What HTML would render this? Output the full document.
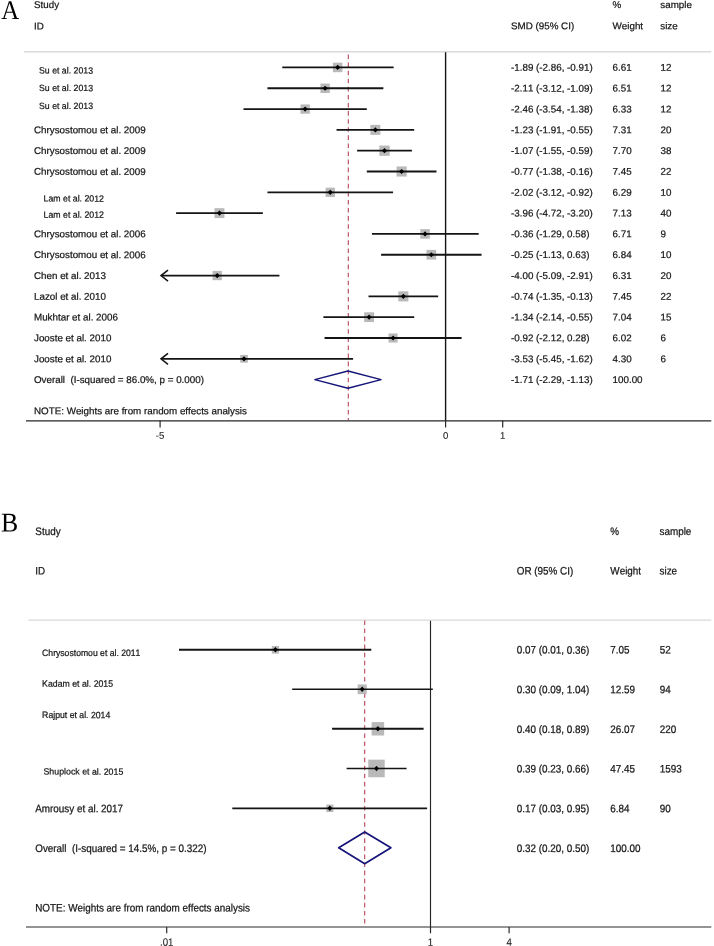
<!DOCTYPE html><html><head><meta charset="utf-8"><title>Forest plots</title>
<style>html,body{margin:0;padding:0;background:#fff}svg{display:block;will-change:transform;transform:translateZ(0)}text{font-family:"Liberation Sans",sans-serif;stroke:#151515;stroke-width:0.22px;font-kerning:none;font-feature-settings:"kern" 0,"liga" 0}text.sf{font-family:"Liberation Serif",serif;stroke:none}</style></head><body>
<svg width="714" height="946" viewBox="0 0 714 946">
<rect width="714" height="946" fill="#fff"/>
<text transform="translate(1.30,18.90) rotate(0.03)" font-size="27" fill="#000" class="sf" textLength="18.0" lengthAdjust="spacingAndGlyphs"  xml:space="preserve">A</text>
<text transform="translate(34.00,8.07) rotate(0.03)" font-size="9.8" fill="#151515"  xml:space="preserve">Study</text>
<text transform="translate(34.00,29.48) rotate(0.03)" font-size="9.8" fill="#151515"  xml:space="preserve">ID</text>
<text transform="translate(511.00,29.18) rotate(0.03)" font-size="9.8" fill="#151515"  xml:space="preserve">SMD (95% CI)</text>
<text transform="translate(612.60,8.07) rotate(0.03)" font-size="9.8" fill="#151515"  xml:space="preserve">%</text>
<text transform="translate(612.60,29.18) rotate(0.03)" font-size="9.8" fill="#151515"  xml:space="preserve">Weight</text>
<text transform="translate(660.30,8.07) rotate(0.03)" font-size="9.8" fill="#151515"  xml:space="preserve">sample</text>
<text transform="translate(660.30,29.18) rotate(0.03)" font-size="9.8" fill="#151515"  xml:space="preserve">size</text>
<line x1="24.00" y1="51.80" x2="711.30" y2="51.80" stroke="#d9d9d9" stroke-width="1.4"/>
<line x1="348.30" y1="54.50" x2="348.30" y2="420.50" stroke="#b4465a" stroke-width="1.1" stroke-dasharray="4.6 3.48" stroke-dashoffset="0"/>
<line x1="445.60" y1="52.30" x2="445.60" y2="420.80" stroke="#141414" stroke-width="1.4"/>
<rect x="332.92" y="62.69" width="9.51" height="9.51" fill="#b9b9b9"/>
<line x1="282.29" y1="67.45" x2="393.64" y2="67.45" stroke="#141414" stroke-width="1.8"/>
<path d="M335.08,67.45 L337.68,64.85 L340.28,67.45 L337.68,70.05 Z" fill="#000"/>
<text transform="translate(39.00,73.60) rotate(0.03)" font-size="9.1" fill="#151515" textLength="54" lengthAdjust="spacingAndGlyphs"  xml:space="preserve">Su et al. 2013</text>
<text transform="translate(511.00,70.80) rotate(0.03)" font-size="9.8" fill="#151515"  xml:space="preserve">-1.89 (-2.86, -0.91)</text>
<text transform="translate(612.60,70.80) rotate(0.03)" font-size="9.8" fill="#151515"  xml:space="preserve">6.61</text>
<text transform="translate(660.60,70.80) rotate(0.03)" font-size="9.8" fill="#151515"  xml:space="preserve">12</text>
<rect x="320.40" y="83.54" width="9.44" height="9.44" fill="#b9b9b9"/>
<line x1="267.45" y1="88.26" x2="383.36" y2="88.26" stroke="#141414" stroke-width="1.8"/>
<path d="M322.52,88.26 L325.12,85.66 L327.72,88.26 L325.12,90.86 Z" fill="#000"/>
<text transform="translate(39.00,91.10) rotate(0.03)" font-size="9.1" fill="#151515" textLength="54" lengthAdjust="spacingAndGlyphs"  xml:space="preserve">Su et al. 2013</text>
<text transform="translate(511.00,91.61) rotate(0.03)" font-size="9.8" fill="#151515"  xml:space="preserve">-2.11 (-3.12, -1.09)</text>
<text transform="translate(612.60,91.61) rotate(0.03)" font-size="9.8" fill="#151515"  xml:space="preserve">6.51</text>
<text transform="translate(660.60,91.61) rotate(0.03)" font-size="9.8" fill="#151515"  xml:space="preserve">12</text>
<rect x="300.48" y="104.42" width="9.31" height="9.31" fill="#b9b9b9"/>
<line x1="243.47" y1="109.07" x2="366.80" y2="109.07" stroke="#141414" stroke-width="1.8"/>
<path d="M302.53,109.07 L305.13,106.47 L307.73,109.07 L305.13,111.67 Z" fill="#000"/>
<text transform="translate(39.00,108.90) rotate(0.03)" font-size="9.1" fill="#151515" textLength="54" lengthAdjust="spacingAndGlyphs"  xml:space="preserve">Su et al. 2013</text>
<text transform="translate(511.00,112.42) rotate(0.03)" font-size="9.8" fill="#151515"  xml:space="preserve">-2.46 (-3.54, -1.38)</text>
<text transform="translate(612.60,112.42) rotate(0.03)" font-size="9.8" fill="#151515"  xml:space="preserve">6.33</text>
<text transform="translate(660.60,112.42) rotate(0.03)" font-size="9.8" fill="#151515"  xml:space="preserve">12</text>
<rect x="370.37" y="124.88" width="10.00" height="10.00" fill="#b9b9b9"/>
<line x1="336.54" y1="129.88" x2="414.19" y2="129.88" stroke="#141414" stroke-width="1.8"/>
<path d="M372.77,129.88 L375.37,127.28 L377.97,129.88 L375.37,132.48 Z" fill="#000"/>
<text transform="translate(34.00,133.23) rotate(0.03)" font-size="9.8" fill="#151515"  xml:space="preserve">Chrysostomou et al. 2009</text>
<text transform="translate(511.00,133.23) rotate(0.03)" font-size="9.8" fill="#151515"  xml:space="preserve">-1.23 (-1.91, -0.55)</text>
<text transform="translate(612.60,133.23) rotate(0.03)" font-size="9.8" fill="#151515"  xml:space="preserve">7.31</text>
<text transform="translate(660.60,133.23) rotate(0.03)" font-size="9.8" fill="#151515"  xml:space="preserve">20</text>
<rect x="379.37" y="145.56" width="10.27" height="10.27" fill="#b9b9b9"/>
<line x1="357.10" y1="150.69" x2="411.91" y2="150.69" stroke="#141414" stroke-width="1.8"/>
<path d="M381.90,150.69 L384.50,148.09 L387.10,150.69 L384.50,153.29 Z" fill="#000"/>
<text transform="translate(34.00,154.04) rotate(0.03)" font-size="9.8" fill="#151515"  xml:space="preserve">Chrysostomou et al. 2009</text>
<text transform="translate(511.00,154.04) rotate(0.03)" font-size="9.8" fill="#151515"  xml:space="preserve">-1.07 (-1.55, -0.59)</text>
<text transform="translate(612.60,154.04) rotate(0.03)" font-size="9.8" fill="#151515"  xml:space="preserve">7.70</text>
<text transform="translate(660.60,154.04) rotate(0.03)" font-size="9.8" fill="#151515"  xml:space="preserve">38</text>
<rect x="396.58" y="166.45" width="10.10" height="10.10" fill="#b9b9b9"/>
<line x1="366.80" y1="171.50" x2="436.46" y2="171.50" stroke="#141414" stroke-width="1.8"/>
<path d="M399.03,171.50 L401.63,168.90 L404.23,171.50 L401.63,174.10 Z" fill="#000"/>
<text transform="translate(34.00,174.85) rotate(0.03)" font-size="9.8" fill="#151515"  xml:space="preserve">Chrysostomou et al. 2009</text>
<text transform="translate(511.00,174.85) rotate(0.03)" font-size="9.8" fill="#151515"  xml:space="preserve">-0.77 (-1.38, -0.16)</text>
<text transform="translate(612.60,174.85) rotate(0.03)" font-size="9.8" fill="#151515"  xml:space="preserve">7.45</text>
<text transform="translate(660.60,174.85) rotate(0.03)" font-size="9.8" fill="#151515"  xml:space="preserve">22</text>
<rect x="325.62" y="187.67" width="9.28" height="9.28" fill="#b9b9b9"/>
<line x1="267.45" y1="192.31" x2="393.07" y2="192.31" stroke="#141414" stroke-width="1.8"/>
<path d="M327.66,192.31 L330.26,189.71 L332.86,192.31 L330.26,194.91 Z" fill="#000"/>
<text transform="translate(43.50,201.60) rotate(0.03)" font-size="9.1" fill="#151515" textLength="60.5" lengthAdjust="spacingAndGlyphs"  xml:space="preserve">Lam et al. 2012</text>
<text transform="translate(511.00,195.66) rotate(0.03)" font-size="9.8" fill="#151515"  xml:space="preserve">-2.02 (-3.12, -0.92)</text>
<text transform="translate(612.60,195.66) rotate(0.03)" font-size="9.8" fill="#151515"  xml:space="preserve">6.29</text>
<text transform="translate(660.60,195.66) rotate(0.03)" font-size="9.8" fill="#151515"  xml:space="preserve">10</text>
<rect x="214.54" y="208.18" width="9.88" height="9.88" fill="#b9b9b9"/>
<line x1="176.09" y1="213.12" x2="262.88" y2="213.12" stroke="#141414" stroke-width="1.8"/>
<path d="M216.88,213.12 L219.48,210.52 L222.08,213.12 L219.48,215.72 Z" fill="#000"/>
<text transform="translate(43.50,217.80) rotate(0.03)" font-size="9.1" fill="#151515" textLength="60.5" lengthAdjust="spacingAndGlyphs"  xml:space="preserve">Lam et al. 2012</text>
<text transform="translate(511.00,216.47) rotate(0.03)" font-size="9.8" fill="#151515"  xml:space="preserve">-3.96 (-4.72, -3.20)</text>
<text transform="translate(612.60,216.47) rotate(0.03)" font-size="9.8" fill="#151515"  xml:space="preserve">7.13</text>
<text transform="translate(660.60,216.47) rotate(0.03)" font-size="9.8" fill="#151515"  xml:space="preserve">40</text>
<rect x="420.25" y="229.14" width="9.58" height="9.58" fill="#b9b9b9"/>
<line x1="371.94" y1="233.93" x2="478.72" y2="233.93" stroke="#141414" stroke-width="1.8"/>
<path d="M422.44,233.93 L425.04,231.33 L427.64,233.93 L425.04,236.53 Z" fill="#000"/>
<text transform="translate(34.00,237.28) rotate(0.03)" font-size="9.8" fill="#151515"  xml:space="preserve">Chrysostomou et al. 2006</text>
<text transform="translate(511.00,237.28) rotate(0.03)" font-size="9.8" fill="#151515"  xml:space="preserve">-0.36 (-1.29, 0.58)</text>
<text transform="translate(612.60,237.28) rotate(0.03)" font-size="9.8" fill="#151515"  xml:space="preserve">6.71</text>
<text transform="translate(660.60,237.28) rotate(0.03)" font-size="9.8" fill="#151515"  xml:space="preserve">9</text>
<rect x="426.49" y="249.90" width="9.68" height="9.68" fill="#b9b9b9"/>
<line x1="381.08" y1="254.74" x2="481.57" y2="254.74" stroke="#141414" stroke-width="1.8"/>
<path d="M428.73,254.74 L431.33,252.14 L433.93,254.74 L431.33,257.34 Z" fill="#000"/>
<text transform="translate(34.00,258.09) rotate(0.03)" font-size="9.8" fill="#151515"  xml:space="preserve">Chrysostomou et al. 2006</text>
<text transform="translate(511.00,258.09) rotate(0.03)" font-size="9.8" fill="#151515"  xml:space="preserve">-0.25 (-1.13, 0.63)</text>
<text transform="translate(612.60,258.09) rotate(0.03)" font-size="9.8" fill="#151515"  xml:space="preserve">6.84</text>
<text transform="translate(660.60,258.09) rotate(0.03)" font-size="9.8" fill="#151515"  xml:space="preserve">10</text>
<rect x="212.55" y="270.90" width="9.29" height="9.29" fill="#b9b9b9"/>
<line x1="161.30" y1="275.55" x2="279.44" y2="275.55" stroke="#141414" stroke-width="1.8"/>
<path d="M168.00,270.05 L161.00,275.55 L168.00,281.05" fill="none" stroke="#141414" stroke-width="1.55" stroke-linejoin="miter"/>
<path d="M214.60,275.55 L217.20,272.95 L219.80,275.55 L217.20,278.15 Z" fill="#000"/>
<text transform="translate(34.00,278.90) rotate(0.03)" font-size="9.8" fill="#151515"  xml:space="preserve">Chen et al. 2013</text>
<text transform="translate(511.00,278.90) rotate(0.03)" font-size="9.8" fill="#151515"  xml:space="preserve">-4.00 (-5.09, -2.91)</text>
<text transform="translate(612.60,278.90) rotate(0.03)" font-size="9.8" fill="#151515"  xml:space="preserve">6.31</text>
<text transform="translate(660.60,278.90) rotate(0.03)" font-size="9.8" fill="#151515"  xml:space="preserve">20</text>
<rect x="398.30" y="291.31" width="10.10" height="10.10" fill="#b9b9b9"/>
<line x1="368.51" y1="296.36" x2="438.18" y2="296.36" stroke="#141414" stroke-width="1.8"/>
<path d="M400.75,296.36 L403.35,293.76 L405.95,296.36 L403.35,298.96 Z" fill="#000"/>
<text transform="translate(34.00,299.71) rotate(0.03)" font-size="9.8" fill="#151515"  xml:space="preserve">Lazol et al. 2010</text>
<text transform="translate(511.00,299.71) rotate(0.03)" font-size="9.8" fill="#151515"  xml:space="preserve">-0.74 (-1.35, -0.13)</text>
<text transform="translate(612.60,299.71) rotate(0.03)" font-size="9.8" fill="#151515"  xml:space="preserve">7.45</text>
<text transform="translate(660.60,299.71) rotate(0.03)" font-size="9.8" fill="#151515"  xml:space="preserve">22</text>
<rect x="364.18" y="312.26" width="9.82" height="9.82" fill="#b9b9b9"/>
<line x1="323.41" y1="317.17" x2="414.19" y2="317.17" stroke="#141414" stroke-width="1.8"/>
<path d="M366.49,317.17 L369.09,314.57 L371.69,317.17 L369.09,319.77 Z" fill="#000"/>
<text transform="translate(34.00,320.52) rotate(0.03)" font-size="9.8" fill="#151515"  xml:space="preserve">Mukhtar et al. 2006</text>
<text transform="translate(511.00,320.52) rotate(0.03)" font-size="9.8" fill="#151515"  xml:space="preserve">-1.34 (-2.14, -0.55)</text>
<text transform="translate(612.60,320.52) rotate(0.03)" font-size="9.8" fill="#151515"  xml:space="preserve">7.04</text>
<text transform="translate(660.60,320.52) rotate(0.03)" font-size="9.8" fill="#151515"  xml:space="preserve">15</text>
<rect x="388.53" y="333.44" width="9.08" height="9.08" fill="#b9b9b9"/>
<line x1="324.55" y1="337.98" x2="461.59" y2="337.98" stroke="#141414" stroke-width="1.8"/>
<path d="M390.47,337.98 L393.07,335.38 L395.67,337.98 L393.07,340.58 Z" fill="#000"/>
<text transform="translate(34.00,341.33) rotate(0.03)" font-size="9.8" fill="#151515"  xml:space="preserve">Jooste et al. 2010</text>
<text transform="translate(511.00,341.33) rotate(0.03)" font-size="9.8" fill="#151515"  xml:space="preserve">-0.92 (-2.12, 0.28)</text>
<text transform="translate(612.60,341.33) rotate(0.03)" font-size="9.8" fill="#151515"  xml:space="preserve">6.02</text>
<text transform="translate(660.60,341.33) rotate(0.03)" font-size="9.8" fill="#151515"  xml:space="preserve">6</text>
<rect x="240.20" y="354.95" width="7.67" height="7.67" fill="#b9b9b9"/>
<line x1="161.30" y1="358.79" x2="353.10" y2="358.79" stroke="#141414" stroke-width="1.8"/>
<path d="M168.00,353.29 L161.00,358.79 L168.00,364.29" fill="none" stroke="#141414" stroke-width="1.55" stroke-linejoin="miter"/>
<path d="M241.44,358.79 L244.04,356.19 L246.64,358.79 L244.04,361.39 Z" fill="#000"/>
<text transform="translate(34.00,362.14) rotate(0.03)" font-size="9.8" fill="#151515"  xml:space="preserve">Jooste et al. 2010</text>
<text transform="translate(511.00,362.14) rotate(0.03)" font-size="9.8" fill="#151515"  xml:space="preserve">-3.53 (-5.45, -1.62)</text>
<text transform="translate(612.60,362.14) rotate(0.03)" font-size="9.8" fill="#151515"  xml:space="preserve">4.30</text>
<text transform="translate(660.60,362.14) rotate(0.03)" font-size="9.8" fill="#151515"  xml:space="preserve">6</text>
<path d="M314.84,379.60 L347.96,371.00 L381.08,379.60 L347.96,388.20 Z" fill="none" stroke="#14147a" stroke-width="1.4" stroke-linejoin="round"/>
<text transform="translate(34.00,382.95) rotate(0.03)" font-size="9.8" fill="#151515"  xml:space="preserve">Overall  (I-squared = 86.0%, p = 0.000)</text>
<text transform="translate(511.00,382.95) rotate(0.03)" font-size="9.8" fill="#151515"  xml:space="preserve">-1.71 (-2.29, -1.13)</text>
<text transform="translate(612.60,382.95) rotate(0.03)" font-size="9.8" fill="#151515"  xml:space="preserve">100.00</text>
<text transform="translate(34.00,414.16) rotate(0.03)" font-size="9.8" fill="#151515"  xml:space="preserve">NOTE: Weights are from random effects analysis</text>
<line x1="26.00" y1="420.85" x2="711.30" y2="420.85" stroke="#262626" stroke-width="1.25"/>
<line x1="160.10" y1="420.60" x2="160.10" y2="427.60" stroke="#2a2a2a" stroke-width="1.2"/>
<text transform="translate(160.10,438.7) rotate(0.03)" font-size="9.6" fill="#222" style="stroke-width:0.08px" text-anchor="middle">-5</text>
<line x1="445.60" y1="420.60" x2="445.60" y2="427.60" stroke="#2a2a2a" stroke-width="1.2"/>
<text transform="translate(445.60,438.7) rotate(0.03)" font-size="9.6" fill="#222" style="stroke-width:0.08px" text-anchor="middle">0</text>
<line x1="502.70" y1="420.60" x2="502.70" y2="427.60" stroke="#2a2a2a" stroke-width="1.2"/>
<text transform="translate(502.70,438.7) rotate(0.03)" font-size="9.6" fill="#222" style="stroke-width:0.08px" text-anchor="middle">1</text>
<text transform="translate(1.00,531.50) rotate(0.03)" font-size="27" fill="#000" class="sf" textLength="17.2" lengthAdjust="spacingAndGlyphs"  xml:space="preserve">B</text>
<text transform="translate(35.30,535.10) rotate(0.03) scale(1,1.1)" font-size="9.9" fill="#151515"  xml:space="preserve">Study</text>
<text transform="translate(35.30,574.60) rotate(0.03) scale(1,1.1)" font-size="9.9" fill="#151515"  xml:space="preserve">ID</text>
<text transform="translate(516.70,574.60) rotate(0.03) scale(1,1.1)" font-size="9.9" fill="#151515"  xml:space="preserve">OR (95% CI)</text>
<text transform="translate(610.30,535.10) rotate(0.03) scale(1,1.1)" font-size="9.9" fill="#151515"  xml:space="preserve">%</text>
<text transform="translate(610.30,574.60) rotate(0.03) scale(1,1.1)" font-size="9.9" fill="#151515"  xml:space="preserve">Weight</text>
<text transform="translate(659.50,535.10) rotate(0.03) scale(1,1.1)" font-size="9.9" fill="#151515"  xml:space="preserve">sample</text>
<text transform="translate(659.50,574.60) rotate(0.03) scale(1,1.1)" font-size="9.9" fill="#151515"  xml:space="preserve">size</text>
<line x1="28.40" y1="620.20" x2="711.30" y2="620.20" stroke="#d9d9d9" stroke-width="1.3"/>
<line x1="364.70" y1="620.40" x2="364.70" y2="927.00" stroke="#b4465a" stroke-width="1.1" stroke-dasharray="4.6 3.47" stroke-dashoffset="0"/>
<line x1="430.50" y1="620.80" x2="430.50" y2="927.00" stroke="#262626" stroke-width="1.15"/>
<rect x="271.83" y="645.98" width="7.14" height="7.64" fill="#b9b9b9"/>
<line x1="179.00" y1="649.80" x2="371.30" y2="649.80" stroke="#141414" stroke-width="1.95"/>
<path d="M273.00,649.80 L275.40,647.00 L277.80,649.80 L275.40,652.60 Z" fill="#000"/>
<text transform="translate(42.10,655.70) rotate(0.03)" font-size="9.3" fill="#151515" textLength="98.3" lengthAdjust="spacingAndGlyphs"  xml:space="preserve">Chrysostomou et al. 2011</text>
<text transform="translate(516.70,653.60) rotate(0.03) scale(1,1.1)" font-size="9.9" fill="#151515"  xml:space="preserve">0.07 (0.01, 0.36)</text>
<text transform="translate(610.30,653.60) rotate(0.03) scale(1,1.1)" font-size="9.9" fill="#151515"  xml:space="preserve">7.05</text>
<text transform="translate(659.70,653.60) rotate(0.03) scale(1,1.1)" font-size="9.9" fill="#151515"  xml:space="preserve">52</text>
<rect x="357.65" y="684.43" width="9.11" height="9.74" fill="#b9b9b9"/>
<line x1="292.20" y1="689.30" x2="432.80" y2="689.30" stroke="#141414" stroke-width="1.5"/>
<path d="M359.80,689.30 L362.20,686.50 L364.60,689.30 L362.20,692.10 Z" fill="#000"/>
<text transform="translate(42.10,686.80) rotate(0.03)" font-size="9.3" fill="#151515" textLength="71" lengthAdjust="spacingAndGlyphs"  xml:space="preserve">Kadam et al. 2015</text>
<text transform="translate(516.70,693.26) rotate(0.03) scale(1,1.1)" font-size="9.9" fill="#151515"  xml:space="preserve">0.30 (0.09, 1.04)</text>
<text transform="translate(610.30,693.26) rotate(0.03) scale(1,1.1)" font-size="9.9" fill="#151515"  xml:space="preserve">12.59</text>
<text transform="translate(659.70,693.26) rotate(0.03) scale(1,1.1)" font-size="9.9" fill="#151515"  xml:space="preserve">94</text>
<rect x="371.63" y="722.09" width="12.53" height="13.41" fill="#b9b9b9"/>
<line x1="332.10" y1="728.80" x2="423.60" y2="728.80" stroke="#141414" stroke-width="1.9"/>
<path d="M375.50,728.80 L377.90,726.00 L380.30,728.80 L377.90,731.60 Z" fill="#000"/>
<text transform="translate(42.10,718.10) rotate(0.03)" font-size="9.3" fill="#151515" textLength="68.2" lengthAdjust="spacingAndGlyphs"  xml:space="preserve">Rajput et al. 2014</text>
<text transform="translate(516.70,732.92) rotate(0.03) scale(1,1.1)" font-size="9.9" fill="#151515"  xml:space="preserve">0.40 (0.18, 0.89)</text>
<text transform="translate(610.30,732.92) rotate(0.03) scale(1,1.1)" font-size="9.9" fill="#151515"  xml:space="preserve">26.07</text>
<text transform="translate(659.70,732.92) rotate(0.03) scale(1,1.1)" font-size="9.9" fill="#151515"  xml:space="preserve">220</text>
<rect x="368.27" y="759.65" width="16.45" height="17.61" fill="#b9b9b9"/>
<line x1="346.60" y1="768.45" x2="406.60" y2="768.45" stroke="#141414" stroke-width="1.65"/>
<path d="M374.10,768.45 L376.50,765.65 L378.90,768.45 L376.50,771.25 Z" fill="#000"/>
<text transform="translate(43.50,774.60) rotate(0.03)" font-size="9.0" fill="#151515" textLength="79.8" lengthAdjust="spacingAndGlyphs"  xml:space="preserve">Shuplock et al. 2015</text>
<text transform="translate(516.70,772.58) rotate(0.03) scale(1,1.1)" font-size="9.9" fill="#151515"  xml:space="preserve">0.39 (0.23, 0.66)</text>
<text transform="translate(610.30,772.58) rotate(0.03) scale(1,1.1)" font-size="9.9" fill="#151515"  xml:space="preserve">47.45</text>
<text transform="translate(659.70,772.58) rotate(0.03) scale(1,1.1)" font-size="9.9" fill="#151515"  xml:space="preserve">1593</text>
<rect x="326.27" y="804.53" width="7.05" height="7.55" fill="#b9b9b9"/>
<line x1="232.30" y1="808.30" x2="427.10" y2="808.30" stroke="#141414" stroke-width="1.65"/>
<path d="M327.40,808.30 L329.80,805.50 L332.20,808.30 L329.80,811.10 Z" fill="#000"/>
<text transform="translate(35.20,812.24) rotate(0.03) scale(1,1.1)" font-size="9.9" fill="#151515"  xml:space="preserve">Amrousy et al. 2017</text>
<text transform="translate(516.70,812.24) rotate(0.03) scale(1,1.1)" font-size="9.9" fill="#151515"  xml:space="preserve">0.17 (0.03, 0.95)</text>
<text transform="translate(610.30,812.24) rotate(0.03) scale(1,1.1)" font-size="9.9" fill="#151515"  xml:space="preserve">6.84</text>
<text transform="translate(659.70,812.24) rotate(0.03) scale(1,1.1)" font-size="9.9" fill="#151515"  xml:space="preserve">90</text>
<path d="M338.70,847.85 L364.70,832.05 L390.90,847.85 L364.70,863.65 Z" fill="none" stroke="#14147a" stroke-width="1.7" stroke-linejoin="round"/>
<text transform="translate(35.20,851.90) rotate(0.03) scale(1,1.1)" font-size="9.9" fill="#151515"  xml:space="preserve">Overall  (I-squared = 14.5%, p = 0.322)</text>
<text transform="translate(516.70,851.90) rotate(0.03) scale(1,1.1)" font-size="9.9" fill="#151515"  xml:space="preserve">0.32 (0.20, 0.50)</text>
<text transform="translate(610.30,851.90) rotate(0.03) scale(1,1.1)" font-size="9.9" fill="#151515"  xml:space="preserve">100.00</text>
<text transform="translate(35.20,911.39) rotate(0.03) scale(1,1.1)" font-size="9.9" fill="#151515"  xml:space="preserve">NOTE: Weights are from random effects analysis</text>
<line x1="26.00" y1="927.00" x2="711.30" y2="927.00" stroke="#2a2a2a" stroke-width="1.2"/>
<line x1="166.70" y1="926.90" x2="166.70" y2="933.30" stroke="#2a2a2a" stroke-width="1.2"/>
<text transform="translate(166.70,945.7) rotate(0.03) scale(1,1.1)" font-size="9.7" fill="#222" style="stroke-width:0.08px" text-anchor="middle">.01</text>
<line x1="430.50" y1="926.90" x2="430.50" y2="933.30" stroke="#2a2a2a" stroke-width="1.2"/>
<text transform="translate(430.50,945.7) rotate(0.03) scale(1,1.1)" font-size="9.7" fill="#222" style="stroke-width:0.08px" text-anchor="middle">1</text>
<line x1="509.10" y1="926.90" x2="509.10" y2="933.30" stroke="#2a2a2a" stroke-width="1.2"/>
<text transform="translate(509.10,945.7) rotate(0.03) scale(1,1.1)" font-size="9.7" fill="#222" style="stroke-width:0.08px" text-anchor="middle">4</text>
</svg></body></html>
